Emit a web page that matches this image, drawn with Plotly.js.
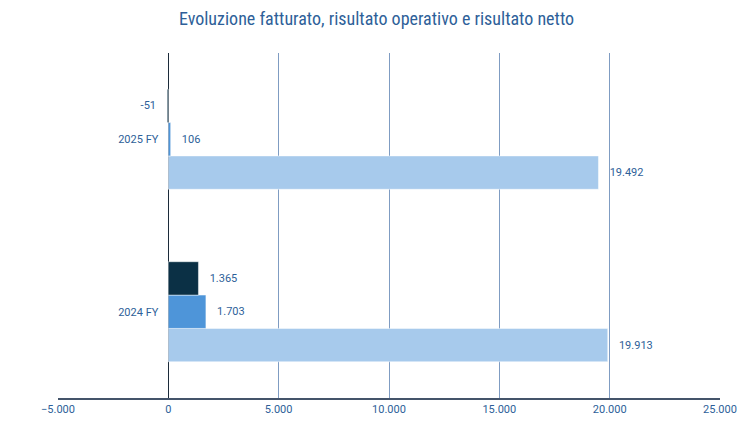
<!DOCTYPE html>
<html>
<head>
<meta charset="utf-8">
<script src="https://cdn.plot.ly/plotly-3.0.1.min.js"></script>
<style>
  html, body { margin: 0; padding: 0; background: #fff; }
  #chart { width: 753px; height: 426px; }
</style>
</head>
<body>
<div id="chart"></div>
<script>
let periods = ['2024 FY', '2025 FY'];
let fatturato = [19913, 19492];
let risultatoOperativo = [1703, 106];
let risultatoNetto = [1365, -51];
let tickValues = [-5000, 0, 5000, 10000, 15000, 20000, 25000];

let titleFont = '"Liberation Sans Narrow", "Roboto Condensed", Roboto, sans-serif';
let labelFont = 'Roboto, "Liberation Sans", sans-serif';
let textBlue = '#2e5f99';

// labels sit a little away from the bar end, like the original
function labelTemplates(values) {
  return values.map(v => v < 0 ? '%{x:,.0f}   ' : '   %{x:,.0f}');
}

function barTrace(values, name, color) {
  return {
    y: periods,
    x: values,
    name: name,
    type: 'bar',
    orientation: 'h',
    marker: {color: color, line: {color: 'rgba(255,255,255,0.6)', width: 0.8}},
    texttemplate: labelTemplates(values),
    textposition: 'outside',
    cliponaxis: false,
    textfont: {color: textBlue, size: 11, family: labelFont},
  };
}

let data = [
  barTrace(fatturato, 'Fatturato', '#a7caec'),
  barTrace(risultatoOperativo, 'Risultato operativo', '#4e95d9'),
  barTrace(risultatoNetto, 'Risultato netto', '#0b3045'),
];

let layout = {
  width: 753,
  height: 426,
  margin: {l: 58, r: 33, t: 53, b: 28},
  paper_bgcolor: '#ffffff',
  plot_bgcolor: '#ffffff',
  separators: ',.',
  barmode: 'group',
  bargap: 0.42,
  bargroupgap: 0,
  showlegend: false,
  font: {family: labelFont, color: textBlue, size: 11},
  title: {
    text: 'Evoluzione fatturato, risultato operativo e risultato netto',
    x: 0.5,
    xanchor: 'center',
    y: 0.955,
    yanchor: 'middle',
    font: {family: titleFont, size: 18, color: textBlue},
  },
  xaxis: {
    range: [-5000, 25000],
    tickvals: tickValues,
    tickformat: ',.0f',
    showgrid: true,
    gridcolor: '#7f9cc2',
    gridwidth: 1,
    zeroline: true,
    zerolinecolor: '#1c2b3a',
    zerolinewidth: 1.2,
    showline: true,
    linecolor: '#44546a',
    linewidth: 1.5,
    ticks: '',
    tickfont: {size: 11, color: textBlue, family: labelFont},
    fixedrange: true,
  },
  yaxis: {
    anchor: 'free',
    position: 1 / 6,
    range: [-0.5, 1.5],
    showgrid: false,
    zeroline: false,
    showline: false,
    ticks: '',
    ticklabelstandoff: 10,
    tickfont: {size: 11, color: textBlue, family: labelFont},
    fixedrange: true,
  },
};

Plotly.newPlot('chart', data, layout, {displayModeBar: false});
</script>
</body>
</html>
